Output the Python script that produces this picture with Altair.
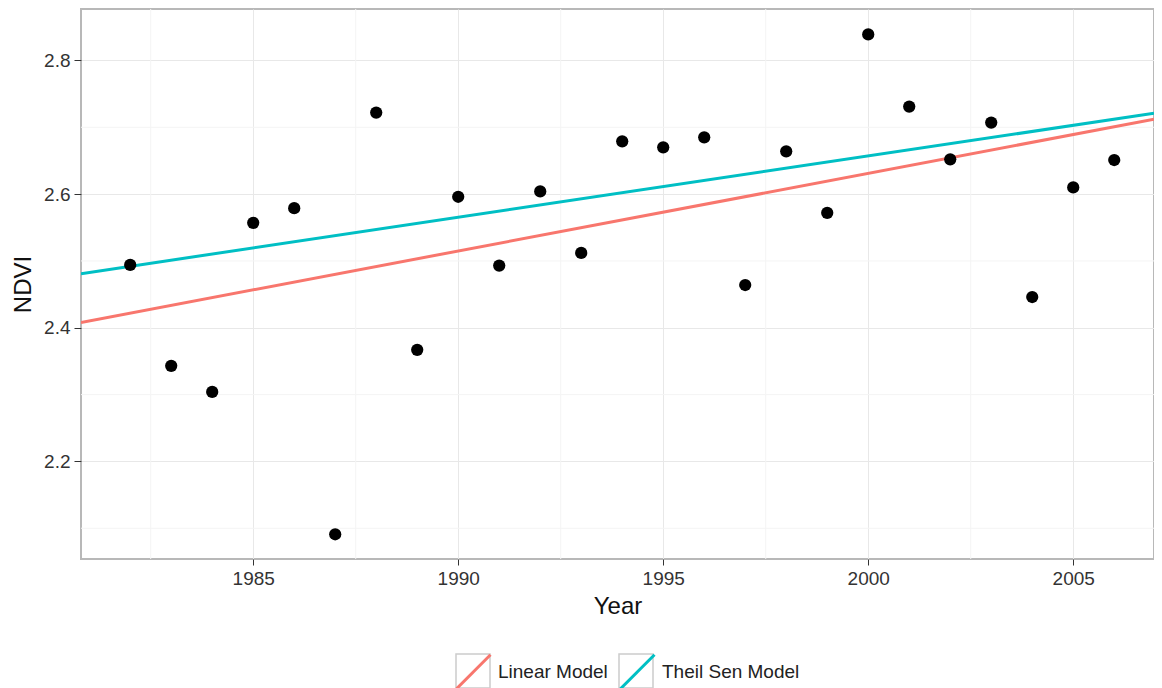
import altair as alt
import pandas as pd

# ---- data ----
years = list(range(1982, 2007))
ndvi = [2.494, 2.343, 2.304, 2.557, 2.579, 2.091, 2.722, 2.367, 2.596, 2.493,
        2.604, 2.512, 2.679, 2.670, 2.685, 2.464, 2.664, 2.572, 2.839, 2.731,
        2.652, 2.707, 2.446, 2.610, 2.651]

model_names = ["Linear Model", "Theil Sen Model"]
model_colors = ["#F8766D", "#00BFC4"]
line_years = [1980.8, 2006.97]
linear_ndvi = [2.408, 2.712]
theil_ndvi = [2.481, 2.721]

x_domain = [1980.8, 2006.97]
y_domain = [2.054, 2.877]
x_ticks = [1985, 1990, 1995, 2000, 2005]
y_ticks = [2.2, 2.4, 2.6, 2.8]
x_minor = [1982.5, 1987.5, 1992.5, 1997.5, 2002.5]
y_minor = [2.1, 2.3, 2.5, 2.7]

pts = pd.DataFrame({"Year": years, "NDVI": ndvi})
lines = pd.DataFrame({
    "Year": line_years + line_years,
    "NDVI": linear_ndvi + theil_ndvi,
    "model": [model_names[0]] * 2 + [model_names[1]] * 2,
})
# separate keys so the key-box legend is not merged with the colour legend
key_names = [m + " " for m in model_names]
lines["key"] = [key_names[0]] * 2 + [key_names[1]] * 2
mx = pd.DataFrame({"Year": x_minor})
my = pd.DataFrame({"NDVI": y_minor})

FONT = "Liberation Sans"
xs = alt.Scale(domain=x_domain, nice=False, zero=False)
ys = alt.Scale(domain=y_domain, nice=False, zero=False)

x_axis = alt.Axis(values=x_ticks, format="d", grid=True, gridColor="#e8e8e8",
                  domain=False, tickColor="#333333", tickSize=6, labelPadding=4,
                  labelFontSize=19, labelColor="#333333", titleFontSize=24,
                  titleColor="#111111", titleFontWeight="normal", titlePadding=6,
                  labelFont=FONT, titleFont=FONT)
y_axis = alt.Axis(values=y_ticks, format=".1f", grid=True, gridColor="#e8e8e8",
                  domain=False, tickColor="#333333", tickSize=7, labelPadding=4,
                  labelFontSize=19, labelColor="#333333", titleFontSize=24,
                  titleColor="#111111", titleFontWeight="normal", titlePadding=8,
                  labelFont=FONT, titleFont=FONT)

X = alt.X("Year:Q", scale=xs, title="Year", axis=x_axis)
Y = alt.Y("NDVI:Q", scale=ys, title="NDVI", axis=y_axis)

grid_x = alt.Chart(mx).mark_rule(color="#f4f4f4", strokeWidth=1).encode(x=X)
grid_y = alt.Chart(my).mark_rule(color="#f4f4f4", strokeWidth=1).encode(y=Y)

legend_common = dict(title=None, orient="none", direction="horizontal",
                     legendX=374, legendY=644, symbolSize=1156,
                     labelFontSize=19, labelColor="#222222", labelFont=FONT,
                     labelOffset=6)

# grey key boxes (invisible marks, legend only, no label text)
box_layer = alt.Chart(lines).mark_point(shape="square", filled=False, opacity=0).encode(
    x=X, y=Y,
    stroke=alt.Stroke("key:N",
                      scale=alt.Scale(domain=key_names, range=["#cccccc", "#cccccc"]),
                      legend=alt.Legend(symbolType="square", symbolStrokeWidth=1.5,
                                        symbolOpacity=1, symbolFillColor="transparent",
                                        labelExpr="''", columnPadding=119,
                                        **legend_common)),
)

line_layer = alt.Chart(lines).mark_line(strokeWidth=3, clip=True).encode(
    x=X, y=Y,
    color=alt.Color("model:N",
                    scale=alt.Scale(domain=model_names, range=model_colors),
                    legend=alt.Legend(symbolType="M-1,1L1,-1", symbolStrokeWidth=3,
                                      columnPadding=6, **legend_common)),
    detail="model:N",
)

point_layer = alt.Chart(pts).mark_circle(size=150, color="black", opacity=1).encode(x=X, y=Y)

chart = alt.layer(grid_x, grid_y, box_layer, line_layer, point_layer).properties(
    width=1073, height=550,
    autosize=alt.AutoSizeParams(type="none"),
    padding={"left": 73, "top": 1, "right": 0, "bottom": 129},
).configure_view(stroke="#b8b8b8", strokeWidth=2)

chart.save("out.html", embed_options={"renderer": "svg", "actions": False})
